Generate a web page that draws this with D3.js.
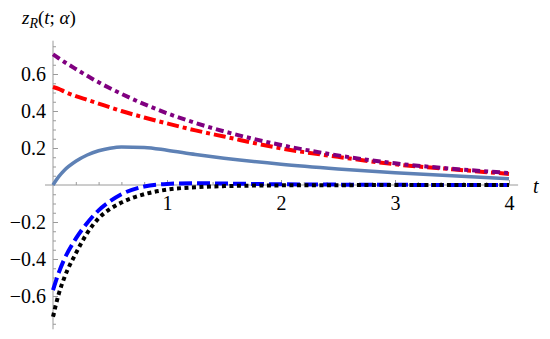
<!DOCTYPE html>
<html>
<head>
<meta charset="utf-8">
<script src="https://cdn.jsdelivr.net/npm/d3@7"></script>
<style>
  body { margin: 0; background: #fff; }
</style>
</head>
<body>
<div class="container"></div>
<script>
// sample times
var tVals = [0, 0.05, 0.1, 0.2, 0.3, 0.4, 0.5, 0.6, 0.8, 1, 1.25, 1.5, 2, 2.5, 3, 3.5, 4];

var purpleVals = [0.706, 0.685, 0.665, 0.627, 0.59, 0.555, 0.523, 0.493, 0.437, 0.388, 0.335, 0.29, 0.216, 0.16, 0.117, 0.088, 0.065];
var redVals    = [0.53, 0.52, 0.505, 0.48, 0.46, 0.44, 0.42, 0.40, 0.365, 0.333, 0.295, 0.262, 0.198, 0.152, 0.112, 0.085, 0.06];
var solidVals  = [0, 0.045, 0.08, 0.128, 0.162, 0.185, 0.199, 0.206, 0.203, 0.188, 0.165, 0.145, 0.112, 0.087, 0.066, 0.05, 0.034];
var dashedVals = [-0.568, -0.475, -0.40, -0.29, -0.205, -0.137, -0.088, -0.05, -0.008, 0.006, 0.01, 0.008, 0.004, 0.002, 0.001, 0, 0];
var dottedVals = [-0.712, -0.59, -0.5, -0.37, -0.26, -0.18, -0.13, -0.095, -0.05, -0.025, -0.012, -0.006, -0.002, -0.001, 0, 0, 0];

var xTicks = [1, 2, 3, 4];
var yTicks = [-0.6, -0.4, -0.2, 0.2, 0.4, 0.6];

var svgWidth = 550;
var svgHeight = 339;
var serif = "'Liberation Serif', 'Times New Roman', Tinos, 'DejaVu Serif', serif";

var svg = d3.select(".container")
    .append("svg")
    .attr("width", svgWidth)
    .attr("height", svgHeight)
    .style("font-family", serif);

var x = d3.scaleLinear().domain([0, 4]).range([53, 509]);
var y = d3.scaleLinear().domain([-0.6, 0.6]).range([296, 74]);

var axisColor = "#9a9a9a";

// axis lines
svg.append("line")
    .attr("x1", x(-0.07)).attr("x2", x(4.08))
    .attr("y1", y(0)).attr("y2", y(0))
    .attr("stroke", axisColor).attr("stroke-width", 1);
svg.append("line")
    .attr("x1", x(0)).attr("x2", x(0))
    .attr("y1", y(0.78)).attr("y2", y(-0.78))
    .attr("stroke", axisColor).attr("stroke-width", 1);

// x minor ticks
var xMinor = d3.range(0.2, 4.01, 0.2).filter(d => Math.abs(d - Math.round(d)) > 1e-6);
svg.append("g")
    .attr("transform", `translate(0, ${y(0)})`)
    .call(d3.axisBottom(x).tickValues(xMinor).tickSize(-3).tickFormat(""))
    .call(g => g.select(".domain").remove())
    .call(g => g.selectAll("line").attr("stroke", axisColor));

// x major ticks + labels
svg.append("g")
    .attr("transform", `translate(0, ${y(0)})`)
    .call(d3.axisBottom(x).tickValues(xTicks).tickSize(-5).tickPadding(11).tickFormat(d3.format("d")))
    .call(g => g.select(".domain").remove())
    .call(g => g.selectAll("line").attr("stroke", axisColor))
    .call(g => g.selectAll("text")
        .style("font-family", serif)
        .style("font-size", "20px")
        .attr("fill", "#000"));

// y minor ticks
var yMinor = d3.range(-0.75, 0.76, 0.05).filter(d => Math.abs(d * 5 - Math.round(d * 5)) > 1e-6);
svg.append("g")
    .attr("transform", `translate(${x(0)}, 0)`)
    .call(d3.axisLeft(y).tickValues(yMinor).tickSize(-3).tickFormat(""))
    .call(g => g.select(".domain").remove())
    .call(g => g.selectAll("line").attr("stroke", axisColor));

// y major ticks + labels
svg.append("g")
    .attr("transform", `translate(${x(0)}, 0)`)
    .call(d3.axisLeft(y).tickValues(yTicks).tickSize(-5).tickPadding(7)
        .tickFormat(d => (d < 0 ? "\u2212" : "") + Math.abs(d).toFixed(1)))
    .call(g => g.select(".domain").remove())
    .call(g => g.selectAll("line").attr("stroke", axisColor))
    .call(g => g.selectAll("text")
        .style("font-family", serif)
        .style("font-size", "20px")
        .attr("fill", "#000"));

// curves
var line = d3.line()
    .x(d => x(d[0]))
    .y(d => y(d[1]))
    .curve(d3.curveMonotoneX);

function series(vals) {
    return tVals.map((t, i) => [t, vals[i]]);
}

var curves = [
    { vals: solidVals,  color: "#5e81b5", width: 3.5, dash: null },
    { vals: redVals,    color: "#ff0000", width: 4,   dash: "12,4,4,4" },
    { vals: purpleVals, color: "#800080", width: 4,   dash: "8,4,4,4" },
    { vals: dashedVals, color: "#0000ff", width: 4,   dash: "13,5" },
    { vals: dottedVals, color: "#000000", width: 4,   dash: "4,3.5" }
];

curves.forEach(c => {
    svg.append("path")
        .datum(series(c.vals))
        .attr("d", line)
        .attr("fill", "none")
        .attr("stroke", c.color)
        .attr("stroke-width", c.width)
        .attr("stroke-dasharray", c.dash)
        .attr("stroke-linecap", "butt");
});

// axis labels
var yLab = svg.append("text")
    .attr("x", 22)
    .attr("y", 24)
    .style("font-family", serif)
    .style("font-size", "19px")
    .attr("fill", "#000");
yLab.append("tspan").attr("font-style", "italic").text("z");
yLab.append("tspan").attr("font-style", "italic").style("font-size", "14px").attr("dy", 4).text("R");
yLab.append("tspan").attr("dy", -4).text("(");
yLab.append("tspan").attr("font-style", "italic").text("t");
yLab.append("tspan").text("; ");
yLab.append("tspan").attr("font-style", "italic").text("\u03b1");
yLab.append("tspan").text(")");

svg.append("text")
    .attr("x", 533)
    .attr("y", 193)
    .style("font-family", serif)
    .style("font-size", "20px")
    .attr("font-style", "italic")
    .attr("fill", "#000")
    .text("t");
</script>
</body>
</html>
